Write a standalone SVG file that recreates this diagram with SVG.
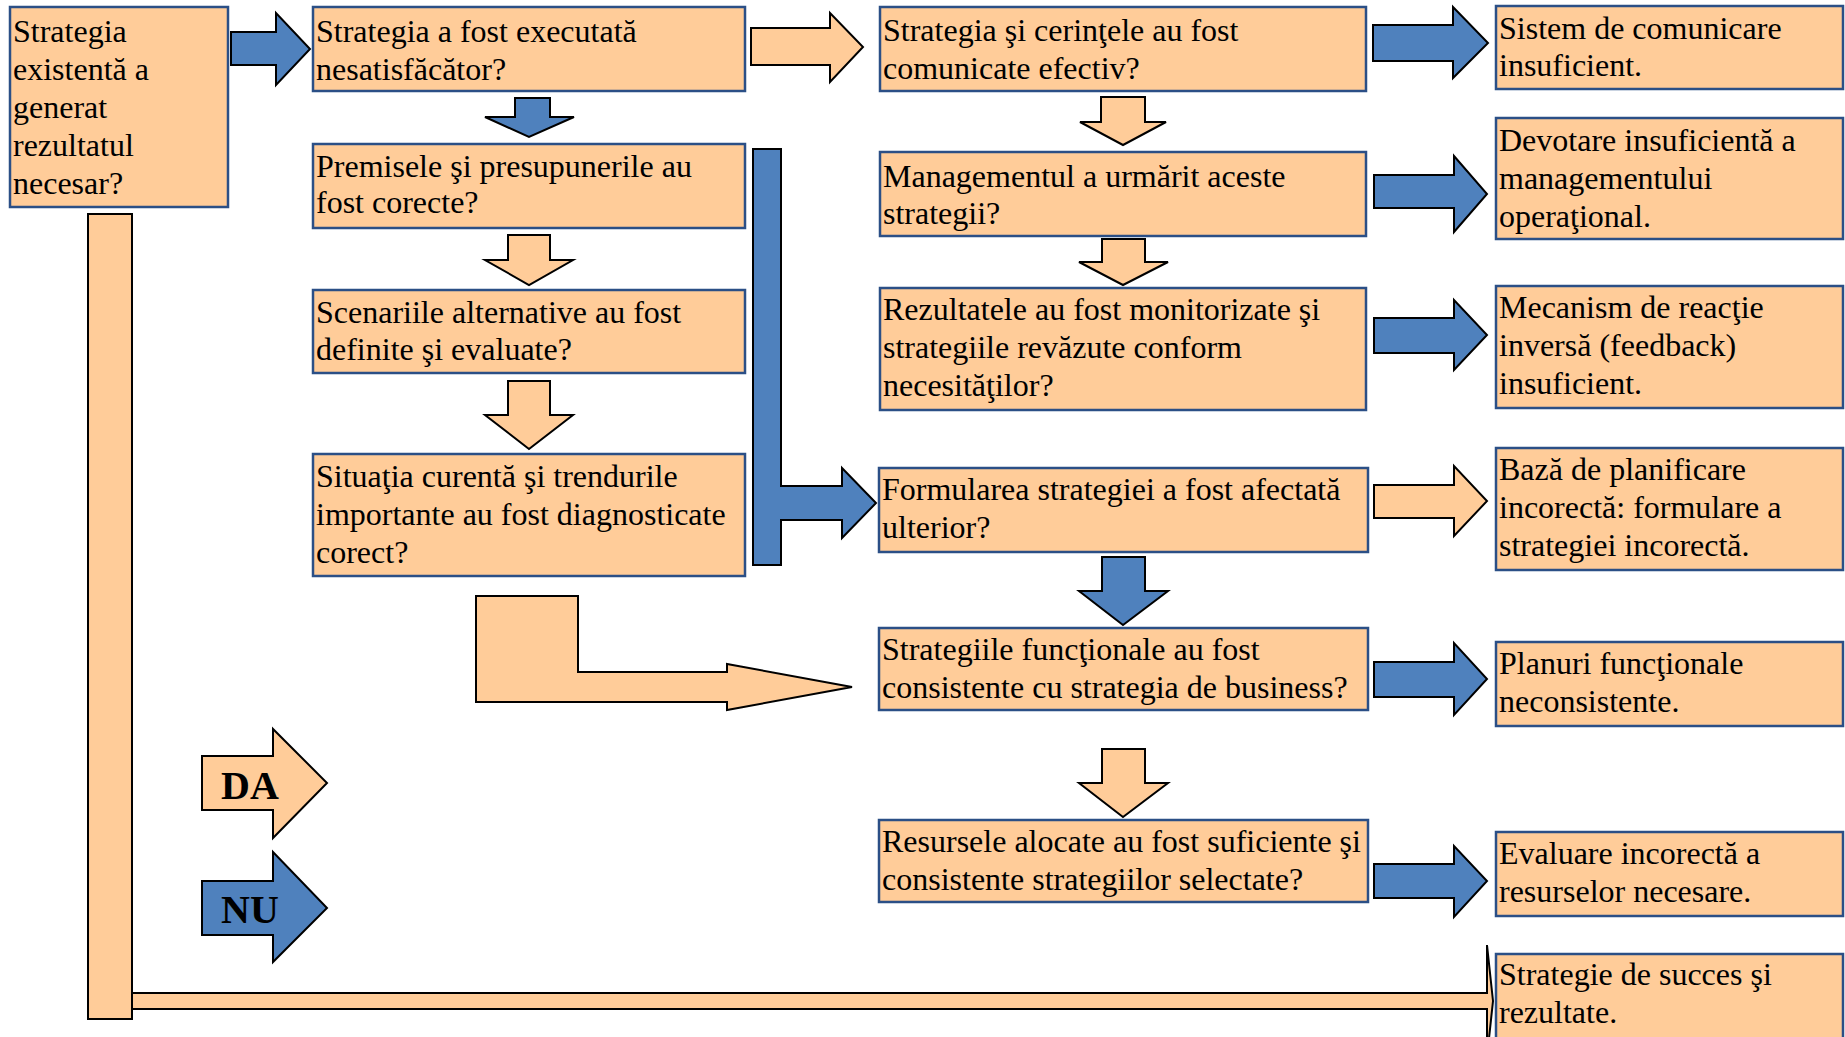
<svg xmlns="http://www.w3.org/2000/svg" width="1845" height="1037" viewBox="0 0 1845 1037">
  <style>
    .box { fill: #FFCC99; stroke: #2B4F86; stroke-width: 2.5; }
    .txt { font-family: "Liberation Serif", "Times New Roman", serif; font-size: 32px; fill: #000; }
    .lbl { font-family: "Liberation Serif", "Times New Roman", serif; font-size: 40px; font-weight: bold; fill: #000; }
    .ab { fill: #4F81BD; stroke: #000; stroke-width: 2; stroke-linejoin: miter; }
    .ao { fill: #FFCC99; stroke: #000; stroke-width: 2; stroke-linejoin: miter; }
  </style>
  <rect width="1845" height="1037" fill="#FFFFFF"/>

  <!-- connectors: block arrows between the questions and outcomes -->
  <g id="connectors">
    <!-- left column -->
    <polygon class="ab" points="231,32 276,32 276,13 310,49 276,85 276,65 231,65"/>
    <polygon class="ab" points="515,98 550,98 550,117 574,117 529,137 485,117 515,117"/>
    <polygon class="ao" points="508,235 550,235 550,260 573,260 529,285 485,260 508,260"/>
    <polygon class="ao" points="508,381 550,381 550,415 573,415 529,449 485,415 508,415"/>
    <!-- vertical "NU" collector feeding the formulation question -->
    <polygon class="ab" points="753,149 781,149 781,486 842,486 842,468 876,503 842,538 842,520 781,520 781,565 753,565"/>
    <!-- L-shaped "DA" path from diagnosis to functional strategies -->
    <polygon class="ao" points="476,596 578,596 578,672 727,672 727,664 852,687 727,710 727,702 476,702"/>
    <!-- top row -->
    <polygon class="ao" points="751,28 830,28 830,13 863,47 830,82 830,65 751,65"/>
    <polygon class="ab" points="1373,25 1453,25 1453,7 1488,43 1453,78 1453,61 1373,61"/>
    <!-- middle column downward chain -->
    <polygon class="ao" points="1101,97 1145,97 1145,122 1166,122 1123,145 1080,122 1101,122"/>
    <polygon class="ao" points="1102,239 1145,239 1145,262 1168,262 1123,285 1079,262 1102,262"/>
    <polygon class="ab" points="1102,557 1145,557 1145,591 1168,591 1123,625 1079,591 1102,591"/>
    <polygon class="ao" points="1102,749 1145,749 1145,783 1168,783 1123,817 1079,783 1102,783"/>
    <!-- middle to right column -->
    <polygon class="ab" points="1374,175 1454,175 1454,156 1487,194 1454,232 1454,208 1374,208"/>
    <polygon class="ab" points="1374,318 1454,318 1454,300 1487,335 1454,370 1454,353 1374,353"/>
    <polygon class="ao" points="1374,485 1454,485 1454,466 1487,501 1454,536 1454,518 1374,518"/>
    <polygon class="ab" points="1374,662 1454,662 1454,643 1487,679 1454,715 1454,697 1374,697"/>
    <polygon class="ab" points="1374,864 1454,864 1454,846 1487,881 1454,917 1454,898 1374,898"/>
    <!-- long "DA" path from the first question to success -->
    <rect class="ao" x="88" y="214" width="44" height="805"/>
    <polygon class="ao" points="132,993 1487,993 1487,945 1493,1001 1487,1057 1487,1009 132,1009"/>
  </g>

  <!-- legend -->
  <g id="legend-da">
    <polygon class="ao" points="202,756 273,756 273,729 327,783 273,838 273,810 202,810"/>
    <text class="lbl" x="221" y="799">DA</text>
  </g>
  <g id="legend-nu">
    <polygon class="ab" points="202,881 273,881 273,852 327,908 273,962 273,935 202,935"/>
    <text class="lbl" x="221" y="923">NU</text>
  </g>

  <!-- left column -->
  <g id="n-start">
    <rect class="box" x="10" y="7" width="218" height="200"/>
    <text class="txt" x="13" y="42">Strategia</text>
    <text class="txt" x="13" y="80">existentă a</text>
    <text class="txt" x="13" y="118">generat</text>
    <text class="txt" x="13" y="156">rezultatul</text>
    <text class="txt" x="13" y="194">necesar?</text>
  </g>
  <g id="n-executie">
    <rect class="box" x="313" y="7" width="432" height="84"/>
    <text class="txt" x="316" y="42">Strategia a fost executată</text>
    <text class="txt" x="316" y="80">nesatisfăcător?</text>
  </g>
  <g id="n-premise">
    <rect class="box" x="313" y="144" width="432" height="84"/>
    <text class="txt" x="316" y="177">Premisele şi presupunerile au</text>
    <text class="txt" x="316" y="213">fost corecte?</text>
  </g>
  <g id="n-scenarii">
    <rect class="box" x="313" y="290" width="432" height="83"/>
    <text class="txt" x="316" y="323">Scenariile alternative au fost</text>
    <text class="txt" x="316" y="360">definite şi evaluate?</text>
  </g>
  <g id="n-situatie">
    <rect class="box" x="313" y="454" width="432" height="122"/>
    <text class="txt" x="316" y="487">Situaţia curentă şi trendurile</text>
    <text class="txt" x="316" y="525">importante au fost diagnosticate</text>
    <text class="txt" x="316" y="563">corect?</text>
  </g>

  <!-- middle column -->
  <g id="n-comunicare">
    <rect class="box" x="880" y="7" width="486" height="84"/>
    <text class="txt" x="883" y="41">Strategia şi cerinţele au fost</text>
    <text class="txt" x="883" y="79">comunicate efectiv?</text>
  </g>
  <g id="n-management">
    <rect class="box" x="880" y="152" width="486" height="84"/>
    <text class="txt" x="883" y="187">Managementul a urmărit aceste</text>
    <text class="txt" x="883" y="224">strategii?</text>
  </g>
  <g id="n-monitorizare">
    <rect class="box" x="880" y="288" width="486" height="122"/>
    <text class="txt" x="883" y="320">Rezultatele au fost monitorizate şi</text>
    <text class="txt" x="883" y="358">strategiile revăzute conform</text>
    <text class="txt" x="883" y="396">necesităţilor?</text>
  </g>
  <g id="n-formulare">
    <rect class="box" x="879" y="468" width="489" height="84"/>
    <text class="txt" x="882" y="500">Formularea strategiei a fost afectată</text>
    <text class="txt" x="882" y="538">ulterior?</text>
  </g>
  <g id="n-functionale">
    <rect class="box" x="879" y="628" width="489" height="82"/>
    <text class="txt" x="882" y="660">Strategiile funcţionale au fost</text>
    <text class="txt" x="882" y="698">consistente cu strategia de business?</text>
  </g>
  <g id="n-resurse">
    <rect class="box" x="879" y="820" width="489" height="82"/>
    <text class="txt" x="882" y="852">Resursele alocate au fost suficiente şi</text>
    <text class="txt" x="882" y="890">consistente strategiilor selectate?</text>
  </g>

  <!-- right column: outcomes -->
  <g id="r-comunicare">
    <rect class="box" x="1496" y="6" width="347" height="83"/>
    <text class="txt" x="1499" y="39">Sistem de comunicare</text>
    <text class="txt" x="1499" y="76">insuficient.</text>
  </g>
  <g id="r-devotare">
    <rect class="box" x="1496" y="118" width="347" height="121"/>
    <text class="txt" x="1499" y="151">Devotare insuficientă a</text>
    <text class="txt" x="1499" y="189">managementului</text>
    <text class="txt" x="1499" y="227">operaţional.</text>
  </g>
  <g id="r-feedback">
    <rect class="box" x="1496" y="286" width="347" height="122"/>
    <text class="txt" x="1499" y="318">Mecanism de reacţie</text>
    <text class="txt" x="1499" y="356">inversă (feedback)</text>
    <text class="txt" x="1499" y="394">insuficient.</text>
  </g>
  <g id="r-planificare">
    <rect class="box" x="1496" y="448" width="347" height="122"/>
    <text class="txt" x="1499" y="480">Bază de planificare</text>
    <text class="txt" x="1499" y="518">incorectă: formulare a</text>
    <text class="txt" x="1499" y="556">strategiei incorectă.</text>
  </g>
  <g id="r-planuri">
    <rect class="box" x="1496" y="642" width="347" height="84"/>
    <text class="txt" x="1499" y="674">Planuri funcţionale</text>
    <text class="txt" x="1499" y="712">neconsistente.</text>
  </g>
  <g id="r-resurse">
    <rect class="box" x="1496" y="832" width="347" height="84"/>
    <text class="txt" x="1499" y="864">Evaluare incorectă a</text>
    <text class="txt" x="1499" y="902">resurselor necesare.</text>
  </g>
  <g id="r-succes">
    <rect class="box" x="1496" y="954" width="347" height="95"/>
    <text class="txt" x="1499" y="985">Strategie de succes şi</text>
    <text class="txt" x="1499" y="1023">rezultate.</text>
  </g>
</svg>
